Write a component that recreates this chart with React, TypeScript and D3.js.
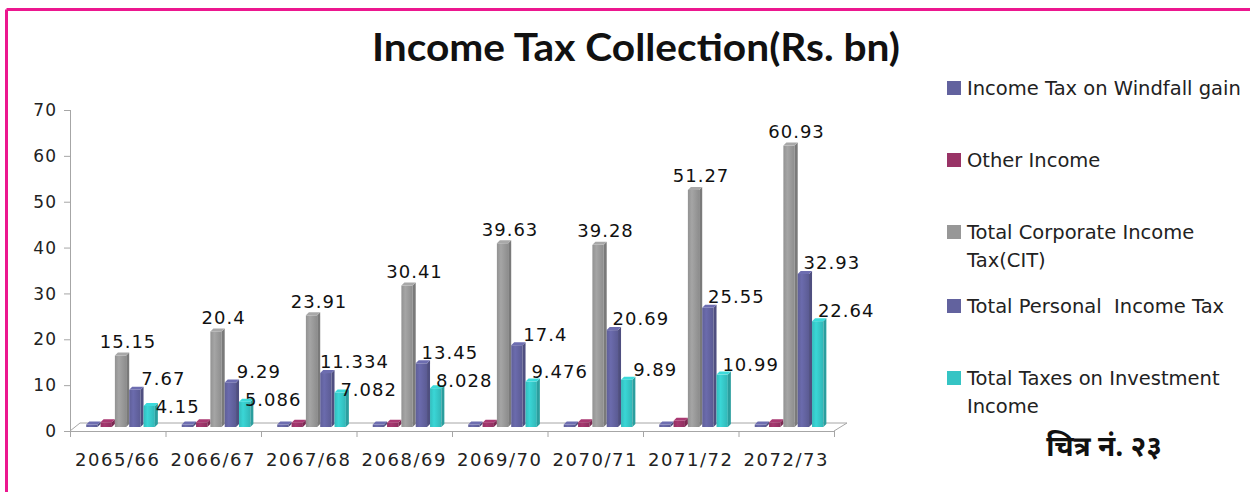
import React from "react";
import * as d3 from "d3";

const categories = ["2065/66", "2066/67", "2067/68", "2068/69", "2069/70", "2070/71", "2071/72", "2072/73"];
const seriesNames = [
  "Income Tax on Windfall gain",
  "Other Income",
  "Total Corporate Income Tax(CIT)",
  "Total Personal  Income Tax",
  "Total Taxes on Investment Income",
];
const windfall = [0.1, 0.1, 0.1, 0.1, 0.1, 0.1, 0.1, 0.1];
const otherIncome = [0.6, 0.6, 0.5, 0.5, 0.5, 0.6, 0.9, 0.6];
const corporate = [15.15, 20.4, 23.91, 30.41, 39.63, 39.28, 51.27, 60.93];
const personal = [7.67, 9.29, 11.334, 13.45, 17.4, 20.69, 25.55, 32.93];
const investment = [4.15, 5.086, 7.082, 8.028, 9.476, 9.89, 10.99, 22.64];
const corporateLabels = ["15.15", "20.4", "23.91", "30.41", "39.63", "39.28", "51.27", "60.93"];
const personalLabels = ["7.67", "9.29", "11.334", "13.45", "17.4", "20.69", "25.55", "32.93"];
const investmentLabels = ["4.15", "5.086", "7.082", "8.028", "9.476", "9.89", "10.99", "22.64"];
const yTicks = [0, 10, 20, 30, 40, 50, 60, 70];

const seriesValues = [windfall, otherIncome, corporate, personal, investment];
const colors = ["#62629e", "#993366", "#979797", "#62629e", "#35c4c4"];
const legendLines = [
  ["Income Tax on Windfall gain"],
  ["Other Income"],
  ["Total Corporate Income", "Tax(CIT)"],
  ["Total Personal  Income Tax"],
  ["Total Taxes on Investment", "Income"],
];

export default function App() {
  const W = 1250, H = 492;
  const x0 = d3.scaleBand<string>().domain(categories).range([70, 834]).padding(0);
  const bw = x0.bandwidth();
  const x1 = d3.scaleBand<string>().domain(seriesNames).range([bw * 0.17, bw * 0.92]).padding(0);
  const y = d3.scaleLinear().domain([0, 70]).range([431, 110]);
  const lift = 6;
  const baseY = 427;
  const dx = 3, dy = 3;
  const sw = x1.bandwidth();

  const labelFont = "DejaVu Sans, Verdana, sans-serif";

  const bars: JSX.Element[] = [];
  const labels: JSX.Element[] = [];
  categories.forEach((c, ci) => {
    seriesValues.forEach((vals, si) => {
      const v = vals[ci];
      const xl = (x0(c) as number) + (x1(seriesNames[si]) as number);
      const top = y(v) - lift;
      const col = d3.color(colors[si]) as d3.RGBColor;
      const side = col.darker(0.6).formatHex();
      const cap = col.brighter(0.3).formatHex();
      bars.push(
        <g key={`b-${ci}-${si}`}>
          <rect x={xl} y={top} width={sw - dx} height={Math.max(0.5, baseY - top)} fill={`url(#grad${si})`} />
          <polygon
            points={`${xl + sw - dx},${top} ${xl + sw},${top - dy} ${xl + sw},${baseY - dy} ${xl + sw - dx},${baseY}`}
            fill={side}
          />
          <polygon
            points={`${xl},${top} ${xl + dx},${top - dy} ${xl + sw},${top - dy} ${xl + sw - dx},${top}`}
            fill={cap}
          />
        </g>
      );
    });
    const cx = (si: number) => (x0(c) as number) + (x1(seriesNames[si]) as number) + sw / 2;
    const gTop = y(corporate[ci]) - lift;
    const pTop = y(personal[ci]) - lift;
    const tTop = y(investment[ci]) - lift;
    const gY = gTop - 14;
    const pY = pTop - 11;
    let tY = tTop - 10;
    if (tY - pY < 27) tY = pY + 28;
    labels.push(
      <text key={`lg-${ci}`} x={cx(2) + 6} y={gY} dy="0.35em" textAnchor="middle" fontSize={18} letterSpacing={1} fill="#111" fontFamily={labelFont}>{corporateLabels[ci]}</text>,
      <text key={`lp-${ci}`} x={cx(3) + 27} y={pY} dy="0.35em" textAnchor="middle" fontSize={18} letterSpacing={1} fill="#111" fontFamily={labelFont}>{personalLabels[ci]}</text>,
      <text key={`lt-${ci}`} x={cx(4) + 27} y={tY} dy="0.35em" textAnchor="middle" fontSize={18} letterSpacing={1} fill="#111" fontFamily={labelFont}>{investmentLabels[ci]}</text>
    );
  });

  const axisColor = "#a6a6a6";
  const legendX = 947;
  const legendYs = [81, 153, 225, 299, 371];

  return (
    <svg width={W} height={H} style={{ position: "absolute", left: 0, top: 0, background: "#fff" }}>
      <defs>
        {colors.map((c, i) => {
          const col = d3.color(c) as d3.RGBColor;
          return (
            <linearGradient key={i} id={`grad${i}`} x1="0" x2="1" y1="0" y2="0">
              <stop offset="0" stopColor={col.darker(0.1).formatHex()} />
              <stop offset="0.35" stopColor={col.brighter(0.25).formatHex()} />
              <stop offset="1" stopColor={col.darker(0.2).formatHex()} />
            </linearGradient>
          );
        })}
      </defs>
      <rect x={0} y={0} width={W} height={H} fill="#fff" />
      <line x1={6.5} y1={9.5} x2={W + 5} y2={9.5} stroke="#ec178f" strokeWidth={3} />
      <line x1={6.5} y1={9.5} x2={6.5} y2={H + 5} stroke="#ec178f" strokeWidth={3} />

      <text x={636} y={61} textAnchor="middle" fontSize={38} fontWeight="bold" fontFamily="Lato, 'Open Sans', sans-serif" fill="#111" textLength={528} lengthAdjust="spacingAndGlyphs">
        Income Tax Collection(Rs. bn)
      </text>

      <polyline points={`${70},${431} ${80},${423} ${847},${423} ${834},${431}`} fill="none" stroke={axisColor} strokeWidth={1} />
      <line x1={70.5} y1={110} x2={70.5} y2={431} stroke={axisColor} />
      {yTicks.map((t) => (
        <g key={`yt-${t}`}>
          <line x1={64} x2={70.5} y1={y(t) + 0.5} y2={y(t) + 0.5} stroke={axisColor} />
          <text x={57} y={y(t)} dy="0.36em" textAnchor="end" fontSize={17} letterSpacing={1} fill="#222" fontFamily={labelFont}>{t}</text>
        </g>
      ))}
      <line x1={70} y1={431.5} x2={834} y2={431.5} stroke={axisColor} />
      {categories.map((c) => (
        <line key={`xt-${c}`} x1={(x0(c) as number) + 0.5} x2={(x0(c) as number) + 0.5} y1={431} y2={437} stroke={axisColor} />
      ))}
      <line x1={834.5} x2={834.5} y1={431} y2={437} stroke={axisColor} />
      {categories.map((c) => (
        <text key={`xl-${c}`} x={(x0(c) as number) + bw / 2} y={466} textAnchor="middle" fontSize={18} letterSpacing={1.5} fill="#222" fontFamily={labelFont}>{c}</text>
      ))}

      {bars}
      {labels}

      {legendLines.map((lines, i) => (
        <g key={`leg-${i}`}>
          <rect x={legendX} y={legendYs[i]} width={14} height={14} fill={colors[i]} />
          {lines.map((ln, j) => (
            <text key={j} x={967} y={legendYs[i] + 14 + j * 28} fontSize={19.5} fill="#222" fontFamily={labelFont} style={{ whiteSpace: "pre" }}>{ln}</text>
          ))}
        </g>
      ))}

      <text x={1104} y={456} textAnchor="middle" fontSize={28} fontWeight="bold" fill="#111" fontFamily="'Noto Sans Devanagari', 'Noto Sans', sans-serif">
        चित्र नं. २३
      </text>
    </svg>
  );
}
